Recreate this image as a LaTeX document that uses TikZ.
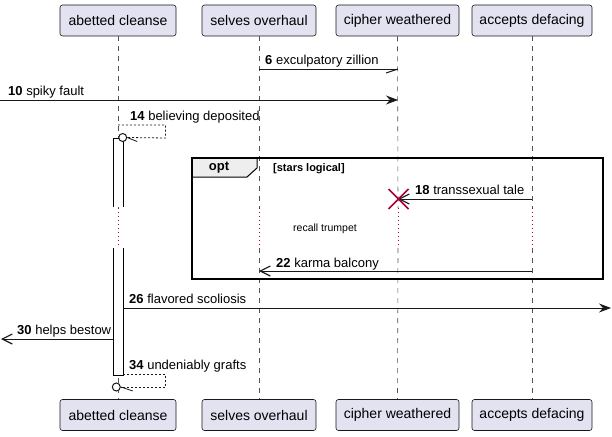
\documentclass[tikz,border=0pt]{standalone}
\usepackage{fontspec}
\setmainfont{Liberation Sans}
\usetikzlibrary{arrows.meta}
\definecolor{partfill}{HTML}{E2E2F0}
\definecolor{partline}{HTML}{181818}
\definecolor{destroyc}{HTML}{A80036}
\definecolor{tabfill}{HTML}{EEEEEE}
\tikzset{
  part/.style={draw=partline, fill=partfill, rounded corners=2.5pt, minimum height=31pt, inner sep=0pt, font=\fontsize{14}{16}\selectfont, line width=0.6pt},
  life/.style={draw=partline!75, dash pattern=on 5pt off 5pt, line width=0.6pt},
  delay/.style={draw=destroyc, dash pattern=on 1pt off 3pt, line width=0.8pt},
  msg/.style={draw=partline, line width=1pt},
  selfmsg/.style={draw=partline, line width=0.8pt, dash pattern=on 2pt off 2pt},
  fullhead/.style={-{Stealth[length=12pt,width=9pt,inset=4pt]}},
  openhead/.style={-{Straight Barb[length=10pt,width=10pt,line width=1.2pt]}},
  lbl/.style={anchor=base west, inner sep=0pt, font=\fontsize{13}{15}\selectfont},
  actbar/.style={draw=black, fill=white, line width=1pt},
  endcirc/.style={circle, draw=partline, fill=white, inner sep=0pt, minimum size=8pt, line width=1pt},
}
\begin{document}
\begin{tikzpicture}[x=1pt,y=-1pt]
\useasboundingbox (0,0) rectangle (612,436);
% participants
\node[part, minimum width=116pt] (a1) at (118,20.5) {abetted cleanse};
\node[part, minimum width=114pt] (b1) at (259,20.5) {selves overhaul};
\node[part, minimum width=123pt] (c1) at (397.5,20.5) {cipher weathered};
\node[part, minimum width=120pt] (d1) at (532,20.5) {accepts defacing};
\node[part, minimum width=116pt] (a2) at (118,415) {abetted cleanse};
\node[part, minimum width=114pt] (b2) at (259,415) {selves overhaul};
\node[part, minimum width=123pt] (c2) at (397.5,415) {cipher weathered};
\node[part, minimum width=120pt] (d2) at (532,415) {accepts defacing};
% lifelines with delay section
\foreach \n/\x in {a/118,b/259,c/398,d/532}{
  \coordinate (\n dA) at (\x,208);
  \coordinate (\n dB) at (\x,248);
  \draw[life] (\n1.south) -- (\n dA);
  \draw[delay] (\n dA) -- (\n dB);
  \draw[life] (\n dB) -- (\n2.north);
}
% activation bar
\draw[actbar] (113,207) -- (113,138) -- (123,138) -- (123,207);
\draw[actbar] (113,248) -- (113,375) -- (123,375) -- (123,248);
% opt frame
\draw[line width=1.6pt, draw=black] (192,158) rectangle (603,279);
\draw[line width=1pt, draw=black, fill=tabfill] (192,158) -- (257,158) -- (257,168) -- (247,177) -- (192,177) -- cycle;
\draw[line width=1.6pt, draw=black] (192,158) rectangle (603,279);
\node[font=\fontsize{13}{15}\selectfont\bfseries, inner sep=0pt] (optl) at (219,168) {opt};
\node[anchor=base west, inner sep=0pt, font=\fontsize{11}{13}\selectfont\bfseries] (cond) at (273,171) {[stars logical]};
% message 6
\coordinate (m6s) at (259,69);
\coordinate (m6e) at (398,69);
\draw[msg] (m6s) -- (m6e);
\draw[msg] (m6e) -- ++(-12,4);
\node[lbl] (l6) at (265,64) {\textbf{6} exculpatory zillion};
% message 10
\coordinate (m10s) at (0,100);
\coordinate (m10e) at (398,100);
\draw[msg, fullhead] (m10s) -- (m10e);
\node[lbl] (l10) at (8,95) {\textbf{10} spiky fault};
% message 14 (self)
\coordinate (m14s) at (118,125);
\node[endcirc] (c14) at (122.7,137.5) {};
\draw[selfmsg] (m14s) -- (165.5,125) -- (165.5,138) -- (c14.east);
\draw[msg, line width=0.8pt] (c14.east) -- ++(10,4);
\node[lbl] (l14) at (130,120) {\textbf{14} believing deposited};
% message 18
\coordinate (m18s) at (532,199);
\coordinate (m18e) at (398,199);
\draw[msg, openhead] (m18s) -- (m18e);
\draw[destroyc, line width=1.6pt] (388.5,189) -- (408.5,209) (388.5,209) -- (408.5,189);
\node[lbl] (l18) at (415,194) {\textbf{18} transsexual tale};
% delay text
\node[inner sep=0pt, font=\fontsize{10.5}{12}\selectfont] (dl) at (325,229) {recall trumpet};
% message 22
\coordinate (m22s) at (532,271);
\coordinate (m22e) at (259,271);
\draw[msg, openhead] (m22s) -- (m22e);
\node[lbl] (l22) at (276,267) {\textbf{22} karma balcony};
% message 26
\coordinate (m26s) at (123,308);
\coordinate (m26e) at (611,308);
\draw[msg, fullhead] (m26s) -- (m26e);
\node[lbl] (l26) at (129,303) {\textbf{26} flavored scoliosis};
% message 30
\coordinate (m30s) at (113,339);
\coordinate (m30e) at (1,339);
\draw[msg, openhead] (m30s) -- (m30e);
\node[lbl] (l30) at (17,334) {\textbf{30} helps bestow};
% message 34 (self)
\coordinate (m34s) at (123,374);
\node[endcirc] (c34) at (116.3,387) {};
\draw[selfmsg] (m34s) -- (165.5,374) -- (165.5,387) -- (c34.east);
\draw[msg, line width=0.8pt] (c34.east) -- ++(12,4);
\node[lbl] (l34) at (129,369) {\textbf{34} undeniably grafts};
\end{tikzpicture}
\end{document}
